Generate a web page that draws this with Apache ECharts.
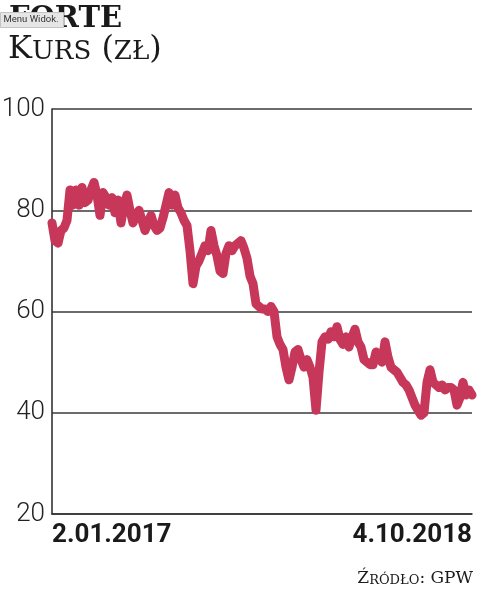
<!DOCTYPE html>
<html>
<head>
<meta charset="utf-8">
<script src="https://cdn.jsdelivr.net/npm/echarts@6/dist/echarts.min.js"></script>
<style>
html,body{margin:0;padding:0;background:#fff;}
#chart{width:479px;height:593px;}
</style>
</head>
<body>
<div id="chart"></div>
<script>
// Share price (zł), sampled along the period 2.01.2017 – 4.10.2018
const prices = [
  77.5, 74, 73.5, 76, 76.5, 78, 84, 81, 84, 81,
  84.5, 81.5, 82, 84, 85.5, 83, 79, 83.5, 82.5, 81,
  82.5, 79.5, 82, 77.5, 81, 83, 80, 77.5, 79, 80,
  78, 76, 77.5, 79, 77, 76, 76.5, 78.5, 81, 83.5,
  81, 83, 80.5, 79.5, 78, 77, 72, 65.5, 69, 70,
  71.5, 73, 72, 76, 73, 71, 68, 67.5, 71.5, 73,
  72, 73, 73.5, 74, 72.5, 70.5, 67, 65.5, 61.5, 61,
  60.5, 60.5, 60, 61, 60, 55, 53.5, 52.5, 49, 46.5,
  49, 52, 52.5, 50.5, 49, 50.5, 49, 47, 40.5, 48,
  54, 55, 54.5, 56, 55, 57, 54.5, 53.5, 55, 53,
  55, 56.5, 54, 53, 50.5, 50, 49.5, 49.5, 52, 51,
  50, 54, 51, 49, 48.5, 48, 47, 46, 45.5, 44.5,
  43, 41.5, 40.5, 39.5, 40, 46, 48.5, 46, 45.5, 45,
  45.5, 44.5, 45, 45, 44.5, 41.5, 43, 46, 43.5, 44.5,
  43.5
];
const xTickLabels = ['2.01.2017', '4.10.2018'];
const yMin = 20, yMax = 100, yStep = 20;
const titleTop = 'FORTE';
const titleMain = ['K', 'URS', ' (', 'ZŁ', ')'];
const sourceParts = ['Ź', 'RÓDŁO', ':', ' GPW'];

const categories = prices.map((_, i) => i);
const lastIdx = prices.length - 1;

const chart = echarts.init(document.getElementById('chart'), null, {renderer: 'canvas'});
const option = {
  backgroundColor: '#ffffff',
  animation: false,
  grid: {left: 52, right: 7, top: 109, bottom: 79, containLabel: false, outerBoundsMode: 'none'},
  xAxis: {
    type: 'category',
    data: categories,
    boundaryGap: false,
    axisLine: {show: true, lineStyle: {color: '#333', width: 1.6}},
    axisTick: {show: false},
    splitLine: {show: false},
    axisLabel: {
      show: true,
      interval: (i) => i === 0 || i === lastIdx,
      formatter: (v) => (Number(v) === 0 ? xTickLabels[0] : xTickLabels[1]),
      alignMinLabel: 'left',
      alignMaxLabel: 'right',
      margin: 8,
      fontFamily: 'Roboto, sans-serif',
      fontWeight: 'bold',
      fontSize: 26,
      color: '#1a1a1a'
    }
  },
  yAxis: {
    type: 'value',
    min: yMin, max: yMax, interval: yStep,
    axisLine: {show: true, lineStyle: {color: '#333', width: 1.6}},
    axisTick: {show: false},
    splitLine: {show: true, lineStyle: {color: '#3a3a3a', width: 1.6}},
    axisLabel: {
      margin: 7,
      fontFamily: 'Roboto, sans-serif',
      fontWeight: 300,
      fontSize: 26,
      color: '#222'
    }
  },
  series: [{
    type: 'line',
    data: prices,
    showSymbol: false,
    symbol: 'none',
    lineStyle: {color: '#c7375a', width: 9, join: 'round', cap: 'round'},
    clip: false
  }],
  graphic: [
    {
      type: 'text', left: 9, top: 5,
      style: {text: titleTop, font: 'bold 29px "DejaVu Serif", serif', fill: '#1a1a1a'}
    },
    {
      type: 'group', left: 0, top: 12,
      children: [
        {type: 'rect', shape: {x: 0, y: 0, width: 63, height: 15}, style: {fill: '#e6e6e6', stroke: '#c4c4c4', lineWidth: 1}},
        {type: 'text', x: 3, y: 7.5, style: {text: 'Menu Widok.', font: '9.5px Roboto, sans-serif', fill: '#333', verticalAlign: 'middle'}}
      ]
    },
    {
      type: 'text', left: 8, top: 34,
      style: {
        text: `{c|${titleMain[0]}}{s|${titleMain[1]}}{c|${titleMain[2]}}{s|${titleMain[3]}}{c|${titleMain[4]}}`,
        rich: {
          c: {font: '32px "DejaVu Serif", serif', fill: '#1a1a1a', lineHeight: 37, verticalAlign: 'bottom'},
          s: {font: '26px "DejaVu Serif", serif', fill: '#1a1a1a', lineHeight: 37, verticalAlign: 'bottom', padding: [0, 0, 1, 0]}
        }
      }
    },
    {
      type: 'text', right: 6, top: 570,
      style: {
        text: `{c|${sourceParts[0]}}{s|${sourceParts[1]}}{c|${sourceParts[2]}}{c|${sourceParts[3]}}`,
        rich: {
          c: {font: '17px "DejaVu Serif", serif', fill: '#1a1a1a', lineHeight: 22, verticalAlign: 'bottom'},
          s: {font: '13px "DejaVu Serif", serif', fill: '#1a1a1a', lineHeight: 22, verticalAlign: 'bottom'}
        }
      }
    }
  ]
};
chart.setOption(option);
</script>
</body>
</html>
